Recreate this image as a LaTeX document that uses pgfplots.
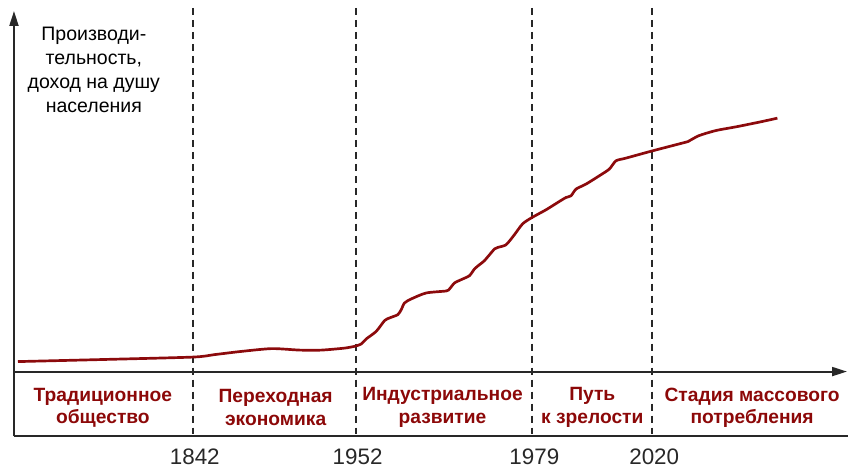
\documentclass[border=0pt]{standalone}
\usepackage{pgfplots}
\pgfplotsset{compat=1.18}
\usepackage{fontspec}
\setmainfont{Liberation Sans}
\usetikzlibrary{arrows.meta}
\definecolor{dred}{RGB}{140,8,8}
\definecolor{lred}{RGB}{140,10,12}
\definecolor{gline}{RGB}{40,40,40}
\begin{document}
\begin{tikzpicture}
\begin{axis}[
  hide axis, scale only axis, clip=false,
  width=849bp, height=466bp,
  xmin=0, xmax=849, ymin=0, ymax=466,
  y dir=reverse,
]
\path (axis cs:0,0) rectangle (axis cs:849,466);
% dashed stage boundaries
\foreach \xx in {193,356,533,653}{
  \edef\tmp{\noexpand\draw[gline, line width=2pt, dash pattern=on 7bp off 5bp] (axis cs:\xx,8) -- (axis cs:\xx,437);}
  \tmp
}
% axes
\draw[gline, line width=2pt, -{Triangle[length=15bp,width=9bp]}] (axis cs:14,437) -- (axis cs:14,11);
\draw[gline, line width=2pt, -{Triangle[length=15bp,width=9bp]}] (axis cs:14,372) -- (axis cs:848,372);
\draw[gline, line width=2pt] (axis cs:14,437) -- (axis cs:849,437);
% curve
\addplot[lred, line width=2.7pt, smooth, tension=0.4] coordinates {
(18,362) (100,360) (193,357.5) (215,355) (240,352) (272,349) (300,350.5) (322,350.5) (345,348.5) (356,346.5)
(361.7,344.3) (366.7,339.3) (376.7,331.7) (385,321) (390,318.3) (398.3,315) (401.7,310) (405,303.3)
(411.7,299.3) (426.7,293.3) (446.7,291.3) (450,289.3) (455,283.3) (461.7,280) (470,276) (475,269.3)
(480,265) (485,261) (495,249.3) (498.3,247.7) (506.7,245) (515,235) (523.3,224) (532.7,217.7)
(546.7,210) (560,201.7) (566.7,197.7) (571.7,196) (576.7,189.3) (586.7,184.3) (600,176) (610,169.3)
(616.7,161) (626.7,158.3) (653.3,151) (686.7,142.3) (690,141) (700,135.7) (716.7,130.7) (736.7,127)
(760,122.3) (778.3,118.3)
};
% y label
\node[align=center, font=\fontsize{19.6}{24}\selectfont, text=black] at (axis cs:94,70) {Производи-\\тельность,\\доход на душу\\населения};
% stage labels
\tikzset{stage/.style={align=center, font=\fontsize{19.3}{22.5}\selectfont\bfseries, text=dred}}
\node[stage] at (axis cs:103,408) {Традиционное\\общество};
\node[stage] at (axis cs:276,408) {Переходная\\экономика};
\node[stage] at (axis cs:443,408) {Индустриальное\\развитие};
\node[stage] at (axis cs:593,408) {Путь\\к зрелости};
\node[stage] at (axis cs:753,408) {Стадия массового\\потребления};
% years
\tikzset{yr/.style={font=\fontsize{22.5}{25}\selectfont, text=gline}}
\node[yr] at (axis cs:195,457) {1842};
\node[yr] at (axis cs:358,457) {1952};
\node[yr] at (axis cs:535,457) {1979};
\node[yr] at (axis cs:655,457) {2020};
\end{axis}
\end{tikzpicture}
\end{document}
